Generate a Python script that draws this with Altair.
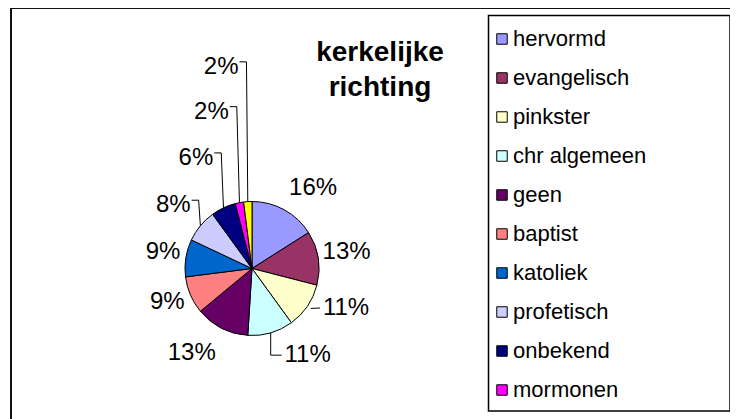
import math
import numpy as np
import pandas as pd
import altair as alt

# ---------------- data ----------------
categories = ["hervormd", "evangelisch", "pinkster", "chr algemeen", "geen",
              "baptist", "katoliek", "profetisch", "onbekend", "mormonen", "overig"]
percentages = [16, 13, 11, 11, 13, 9, 9, 8, 6, 2, 2]
slice_colors = ["#9999FF", "#993366", "#FFFFCC", "#CCFFFF", "#660066",
                "#FF8080", "#0066CC", "#CCCCFF", "#000080", "#FF00FF", "#FFFF00"]
legend_items = categories[:10]
title_lines = ["kerkelijke", "richting"]

# ---------------- layout / style ----------------
W, H = 722, 411
CX, CY, R = 244, 260.5, 67
FONT = "Liberation Sans"
LABEL_SIZE = 24
label_radius = [101, 96, 102, 103, 104, 91, 90.5, 101, 124, 162, 204]
label_nudge_deg = [8.4, -0.9, -11.4, -16.5, 8.4, 1.9, 1.5, -0.8, -1.7, -3.7, -5.1]
leader_kind = ["", "", "dash", "elbow", "", "", "", "hook", "hook", "hook", "hook"]

df = pd.DataFrame({"cat": categories, "pct": percentages,
                   "order": list(range(len(categories)))})
df["label"] = df["pct"].astype(str) + "%"
total = df["pct"].sum()
cum = df["pct"].cumsum()
df["mid"] = (cum - df["pct"] / 2) / total * 2 * math.pi
th = df["mid"] + np.radians(label_nudge_deg)
lr = np.array(label_radius, dtype=float)
df["lx"] = CX + lr * np.sin(th)
df["ly"] = CY - lr * np.cos(th)


def text_w(s):
    return sum(0.889 if c == "%" else 0.556 for c in s) * LABEL_SIZE


segs = []
for i, row in df.iterrows():
    kind = leader_kind[i]
    if not kind:
        continue
    s, c = math.sin(row["mid"]), math.cos(row["mid"])
    ex, ey = CX + R * s, CY - R * c
    hw = text_w(row["label"]) / 2
    lx, ly = row["lx"], row["ly"]
    if kind == "hook":
        xa, xb, yk = lx + hw + 1, lx + hw + 8, ly - 5
        segs.append((xa, yk, xb, yk))
        segs.append((xb, yk, ex, ey))
    elif kind == "dash":
        segs.append((CX + (R + 4) * s, CY - (R + 4) * c, lx - hw - 2, ly))
    elif kind == "elbow":
        segs.append((ex, ey, ex, ly))
        segs.append((ex, ly, lx - hw - 2, ly))
lead_df = pd.DataFrame(segs, columns=["x", "y", "x2", "y2"])

one = pd.DataFrame({"k": [0]})

frame_top = alt.Chart(one).mark_rule(color="#111111", strokeWidth=2).encode(
    x=alt.value(3), x2=alt.value(W), y=alt.value(0))
frame_left = alt.Chart(one).mark_rule(color="#111111", strokeWidth=2).encode(
    x=alt.value(3), y=alt.value(0), y2=alt.value(H))

legend_box = alt.Chart(one).mark_rect(filled=False, stroke="black", strokeWidth=1.5).encode(
    x=alt.value(480.5), x2=alt.value(722), y=alt.value(7.5), y2=alt.value(403))

pie = alt.Chart(df).mark_arc(radius=R, stroke="black", strokeWidth=1).encode(
    theta=alt.Theta("pct:Q", stack=True),
    order=alt.Order("order:Q"),
    color=alt.Color(
        "cat:N",
        scale=alt.Scale(domain=categories, range=slice_colors),
        legend=alt.Legend(
            orient="none", legendX=483, legendY=20, title=None,
            values=legend_items, symbolType="square", symbolSize=110,
            symbolStrokeColor="black", symbolStrokeWidth=1, symbolOpacity=1,
            labelFont=FONT, labelFontSize=22, labelColor="black",
            labelOffset=0, rowPadding=17, padding=0, labelLimit=400,
        ),
    ),
    x=alt.value(CX), y=alt.value(CY),
)

leaders = alt.Chart(lead_df).mark_rule(color="black", strokeWidth=1).encode(
    x=alt.X("x:Q", scale=None), y=alt.Y("y:Q", scale=None),
    x2="x2:Q", y2="y2:Q")

labels = alt.Chart(df).mark_text(
    font=FONT, fontSize=LABEL_SIZE, align="center", baseline="middle", color="black"
).encode(
    x=alt.X("lx:Q", scale=None), y=alt.Y("ly:Q", scale=None), text="label:N")

title = alt.Chart(one).mark_text(
    text=title_lines, font=FONT, fontSize=28, fontWeight="bold", lineHeight=35,
    align="center", baseline="middle", color="black"
).encode(x=alt.value(372), y=alt.value(45))

chart = alt.layer(frame_top, frame_left, legend_box, pie, leaders, labels, title).properties(
    width=W, height=H, autosize="none", padding=0, background="white"
).configure_view(stroke=None)

chart.save("out.html", embed_options={"renderer": "svg", "actions": False})
